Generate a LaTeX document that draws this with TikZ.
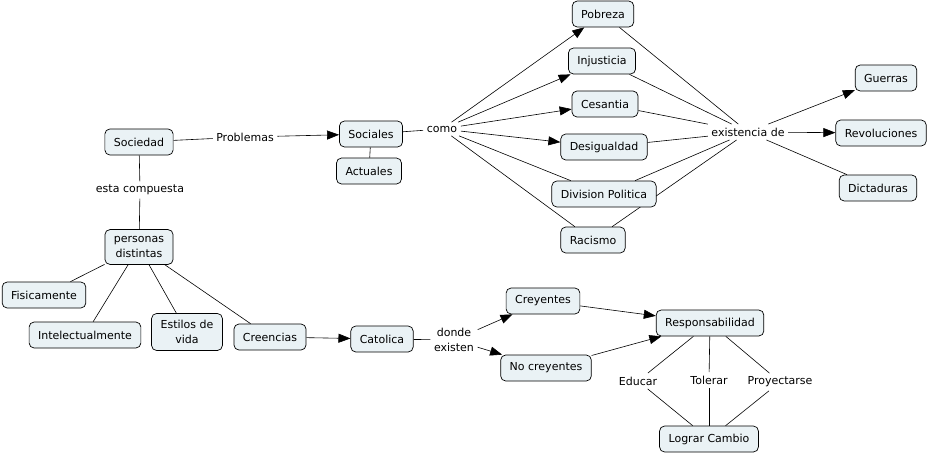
\documentclass[tikz,border=0pt]{standalone}
\usepackage{fontspec}
\setmainfont{DejaVu Sans}
\usetikzlibrary{arrows.meta,backgrounds}
\definecolor{boxfill}{RGB}{234,242,245}
\begin{document}
\begin{tikzpicture}[x=1pt,y=-1pt,
 font=\fontsize{11}{15.5}\selectfont,
 box/.style={draw=black, fill=boxfill, rounded corners=5pt, line width=0.7pt, minimum height=26pt, inner xsep=9pt, inner ysep=4.5pt, align=center},
 tallbox/.style={box, inner ysep=6.5pt},
 lbl/.style={inner sep=3.5pt, align=center},
 ln/.style={line width=0.6pt},
 arr/.style={ln, -{Triangle[length=12pt,width=9pt]}}]
\useasboundingbox (0,0) rectangle (930,456);
% boxes
\node[box] (soc) at (139,142) {Sociedad};
\node[box] (sociales) at (371,134) {Sociales};
\node[box] (actuales) at (369,171) {Actuales};
\node[box] (pob) at (603,14) {Pobreza};
\node[box] (inj) at (602,61) {Injusticia};
\node[box] (ces) at (605,104) {Cesantia};
\node[box] (des) at (604,147) {Desigualdad};
\node[box] (div) at (604,194) {Division Politica};
\node[box] (rac) at (593,240) {Racismo};
\node[box] (gue) at (886,78) {Guerras};
\node[box] (rev) at (881,133) {Revoluciones};
\node[box] (dic) at (878,188) {Dictaduras};
\node[tallbox] (per) at (139,247) {personas\\distintas};
\node[box] (fis) at (44,295) {Fisicamente};
\node[box] (int) at (85,335) {Intelectualmente};
\node[tallbox] (est) at (187,332) {Estilos de\\vida};
\node[box] (cre) at (270,337) {Creencias};
\node[box] (cat) at (382,339) {Catolica};
\node[box] (crey) at (543,301) {Creyentes};
\node[box] (nocrey) at (546,368) {No creyentes};
\node[box] (resp) at (710,323) {Responsabilidad};
\node[box] (log) at (709,439) {Lograr Cambio};
% labels
\node[lbl] (prob) at (245,137) {Problemas};
\node[lbl] (esta) at (140,190) {esta compuesta};
\node[lbl] (como) at (442,129) {como};
\node[lbl] (exis) at (748,132) {existencia de};
\node[lbl] (donde) at (454,340) {donde\\existen};
\node[lbl] (edu) at (638,381) {Educar};
\node[lbl] (tol) at (709,380) {Tolerar};
\node[lbl] (pro) at (780,382) {Proyectarse};
% connectors
\begin{scope}[on background layer]
 \draw[ln] (soc) -- (prob);
 \draw[arr] (prob) -- (sociales);
 \draw[ln] (sociales) -- (actuales);
 \draw[ln] (sociales) -- (como);
 \draw[arr] (como) -- (pob);
 \draw[arr] (como) -- (inj);
 \draw[arr] (como) -- (ces);
 \draw[arr] (como) -- (des);
 \draw[ln] (como) -- (div);
 \draw[ln] (como) -- (rac);
 \draw[ln] (pob) -- (exis);
 \draw[ln] (inj) -- (exis);
 \draw[ln] (ces) -- (exis);
 \draw[ln] (des) -- (exis);
 \draw[ln] (div) -- (exis);
 \draw[ln] (rac) -- (exis);
 \draw[arr] (exis) -- (gue);
 \draw[arr] (exis) -- (rev);
 \draw[ln] (exis) -- (dic);
 \draw[ln] (soc) -- (esta);
 \draw[ln] (esta) -- (per);
 \draw[ln] (per) -- (fis);
 \draw[ln] (per) -- (int);
 \draw[ln] (per) -- (est);
 \draw[ln] (per) -- (cre);
 \draw[arr] (cre) -- (cat);
 \draw[ln] (cat) -- (donde);
 \draw[arr] (donde) -- (crey);
 \draw[arr] (donde) -- (nocrey);
 \draw[arr] (crey) -- (resp);
 \draw[arr] (nocrey) -- (resp);
 \draw[ln] (resp) -- (edu);
 \draw[ln] (edu) -- (log);
 \draw[ln] (resp) -- (tol);
 \draw[ln] (tol) -- (log);
 \draw[ln] (resp) -- (pro);
 \draw[ln] (pro) -- (log);
\end{scope}
\end{tikzpicture}
\end{document}
